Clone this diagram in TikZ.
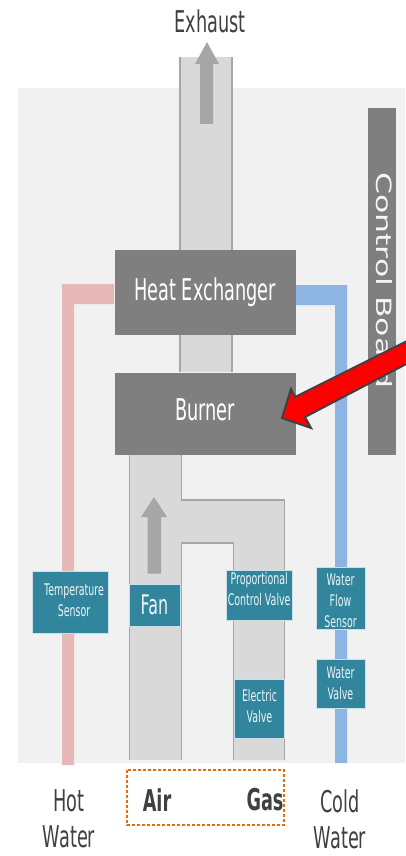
\documentclass[tikz,border=0pt]{standalone}
\usepackage{fontspec}
\setmainfont{DejaVu Sans}
\usetikzlibrary{calc}
\definecolor{panelgray}{HTML}{F1F1F1}
\definecolor{ductgray}{HTML}{D9D9D9}
\definecolor{edgegray}{HTML}{A6A6A6}
\definecolor{boxgray}{HTML}{7F7F7F}
\definecolor{unitteal}{HTML}{31859C}
\definecolor{hotpink}{HTML}{E6B8B7}
\definecolor{coldblue}{HTML}{8EB4E3}
\definecolor{dotorange}{HTML}{E46C0A}
\definecolor{inkgray}{HTML}{404040}
\newcommand{\nar}[1]{\scalebox{.59}[1]{#1}}
\tikzset{
  bigbox/.style={fill=boxgray,text=white,inner sep=0pt,font=\fontsize{30}{30}\selectfont},
  unitbox/.style={fill=unitteal,draw=white!75!unitteal,line width=.5pt,text=white!92!unitteal,inner sep=0pt,align=center,font=\fontsize{16}{21}\selectfont},
  unittext/.style={text=white!92!unitteal,inner sep=0pt,align=center,font=\fontsize{16}{21}\selectfont},
  endlabel/.style={text=inkgray,inner sep=0pt,align=center,font=\fontsize{30}{36}\selectfont},
  flowarrow/.style={fill=edgegray},
  ductedge/.style={draw=edgegray,line width=1.2pt},
}
\begin{document}
\begin{tikzpicture}[x=1pt,y=-1pt]
\useasboundingbox (0,0) rectangle (405,856);
\fill[panelgray] (18,88) rectangle (405,763);

\fill[ductgray] (180,57) rectangle (232,372);
\draw[ductedge] (180,57) -- (180,372);
\draw[ductedge] (232,57) -- (232,372);

\fill[hotpink] (62,765) -- (62,284) -- (114,284) -- (114,304) -- (74,304) -- (74,765) -- cycle;
\fill[coldblue] (335,763) -- (335,305) -- (295,305) -- (295,285) -- (347,285) -- (347,763) -- cycle;

\fill[ductgray] (129.5,455) rectangle (181.5,760);
\draw[ductedge] (129.5,455) -- (129.5,760);
\draw[ductedge] (181.5,455) -- (181.5,500);
\draw[ductedge] (181.5,543) -- (181.5,760);
\fill[ductgray] (181,500) -- (284.5,500) -- (284.5,760) -- (233.5,760) -- (233.5,543) -- (181,543) -- cycle;
\draw[ductedge] (181,500) -- (284.5,500) -- (284.5,760);
\draw[ductedge] (233.5,760) -- (233.5,543) -- (181,543);

\fill[flowarrow] (207,42) -- (219,64) -- (213,64) -- (213,124) -- (200,124) -- (200,64) -- (195,64) -- cycle;
\fill[flowarrow] (154,497) -- (167,517) -- (161,517) -- (161,573.5) -- (147.5,573.5) -- (147.5,517) -- (141,517) -- cycle;

\node[bigbox,minimum width=181pt,minimum height=85pt] (heatx) at (205,292.5) {\nar{Heat Exchanger}};
\node[bigbox,minimum width=181pt,minimum height=82.5pt,text depth=8pt] (burner) at (205,413.8) {\nar{Burner}};
\node[fill=boxgray,minimum width=28pt,minimum height=347pt,inner sep=0pt] (board) at (382,281.5) {};
\node[text=white!92!boxgray,inner sep=0pt,rotate=-90,font=\fontsize{21}{21}\selectfont] (boardtext) at (384,280.5) {\scalebox{1.5}[1]{Control Board}};

\node[unitbox,minimum width=76pt,minimum height=62pt] (tempsensor) at (70,602.5) {};
\node[unittext] (temptext) at (74,600) {\nar{Temperature}\\\nar{Sensor}};
\node[unitbox,minimum width=51pt,minimum height=42pt,font=\fontsize{27}{27}\selectfont] (fan) at (154.5,605) {\nar{Fan}};
\node[unitbox,minimum width=66.5pt,minimum height=50pt] (propvalve) at (259.2,595) {};
\node[unittext] (proptext) at (259.2,589) {\nar{Proportional}\\\nar{Control Valve}};
\node[unitbox,minimum width=49pt,minimum height=62.5pt] (flowsensor) at (340.5,598.2) {};
\node[unittext] (flowtext) at (340.5,601) {\nar{Water}\\\nar{Flow}\\\nar{Sensor}};
\node[unitbox,minimum width=49pt,minimum height=49pt] (watervalve) at (340.5,683.5) {\nar{Water}\\\nar{Valve}};
\node[unitbox,minimum width=50pt,minimum height=59pt] (elecvalve) at (259.5,708.5) {};
\node[unittext] (electext) at (259.5,706.5) {\nar{Electric}\\\nar{Valve}};

\draw[dotorange,line width=2.5pt,dash pattern=on 2.8pt off 2.2pt] (127,770) rectangle (284,825);

\node[endlabel] (exhaust) at (210,21) {\nar{Exhaust}};
\node[endlabel] (hotwater) at (69,819) {\nar{Hot}\\\nar{Water}};
\node[endlabel,font=\bfseries\fontsize{30}{30}\selectfont] (air) at (157,800) {\nar{Air}};
\node[endlabel,font=\bfseries\fontsize{30}{30}\selectfont] (gas) at (265,800) {\nar{Gas}};
\node[endlabel] (coldwater) at (340,819) {\nar{Cold}\\\nar{Water}};

\draw[inkgray,line width=2pt,fill=red,line join=miter] (282,418) -- (291,389) -- (295,397) -- (412,338.5) -- (412,361) -- (305,417) -- (311,428) -- cycle;
\end{tikzpicture}
\end{document}
